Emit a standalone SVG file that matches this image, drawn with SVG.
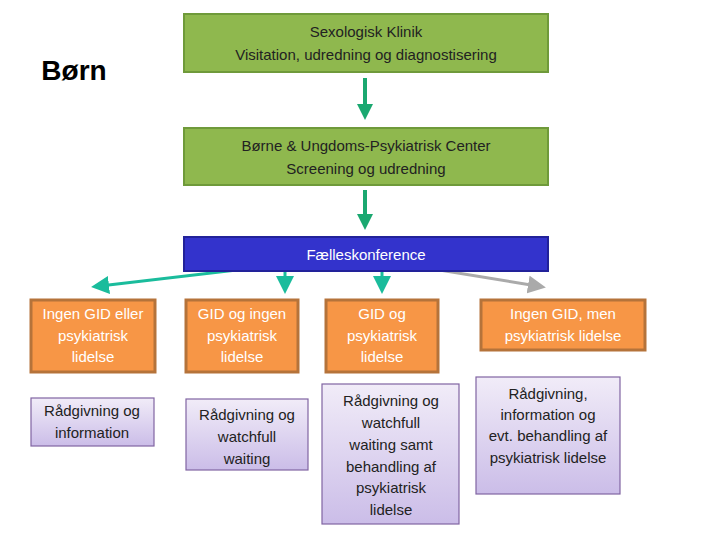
<svg xmlns="http://www.w3.org/2000/svg" width="720" height="540" viewBox="0 0 720 540">
<style>
text{font-family:"Liberation Sans",Arial,sans-serif;font-size:15px;text-anchor:middle}
.g{fill:#8fb84e;stroke:#6f9a3a;stroke-width:2}
.o{fill:#f79646;stroke:#b5733a;stroke-width:3}
.p{fill:url(#pg);stroke:#8064a2;stroke-width:1.2}
.w{fill:#fff}
.d{fill:#222}
</style>
<defs>
<linearGradient id="pg" x1="0" y1="0" x2="0" y2="1"><stop offset="0" stop-color="#f1ecf8"/><stop offset="1" stop-color="#cbbde8"/></linearGradient>
<marker id="at" markerWidth="6" markerHeight="6" refX="3" refY="3" orient="auto"><path d="M0,0L6,3L0,6Z" fill="#1abc9c"/></marker>
<marker id="ag" markerWidth="6" markerHeight="6" refX="3" refY="3" orient="auto"><path d="M0,0L6,3L0,6Z" fill="#aaaaaa"/></marker>
<marker id="adg" markerWidth="4" markerHeight="4" refX="2" refY="2" orient="auto"><path d="M0,0L4,2L0,4Z" fill="#1aa870"/></marker>
</defs>
<text x="74" y="80" style="font-size:28px;font-weight:bold;text-anchor:middle" fill="#000">Børn</text>
<g id="connectors" fill="none">
<line x1="365" y1="78" x2="365" y2="112" stroke="#1aa870" stroke-width="4" marker-end="url(#adg)"/>
<line x1="365" y1="190" x2="365" y2="222" stroke="#1aa870" stroke-width="4" marker-end="url(#adg)"/>
<line x1="272" y1="266" x2="100" y2="286" stroke="#1abc9c" stroke-width="3" marker-end="url(#at)"/>
<line x1="285" y1="271" x2="285" y2="285" stroke="#1abc9c" stroke-width="3" marker-end="url(#at)"/>
<line x1="382" y1="271" x2="382" y2="285" stroke="#1abc9c" stroke-width="3" marker-end="url(#at)"/>
<line x1="421" y1="267" x2="537" y2="286" stroke="#aaaaaa" stroke-width="3" marker-end="url(#ag)"/>
</g>
<g id="n1"><rect class="g" x="184" y="14" width="364" height="58"/><text class="d" x="366" y="37">Sexologisk Klinik</text><text class="d" x="366" y="60">Visitation, udredning og diagnostisering</text></g>
<g id="n2"><rect class="g" x="184" y="128" width="364" height="57"/><text class="d" x="366" y="151">Børne &amp; Ungdoms-Psykiatrisk Center</text><text class="d" x="366" y="174">Screening og udredning</text></g>
<g id="n3"><rect x="184" y="237" width="364" height="34" fill="#3333cc" stroke="#22229a" stroke-width="2"/><text class="w" x="366" y="260">Fælleskonference</text></g>
<g id="o1"><rect class="o" x="31" y="300" width="124" height="72"/><text class="w" x="93" y="319">Ingen GID eller</text><text class="w" x="93" y="341">psykiatrisk</text><text class="w" x="93" y="362">lidelse</text></g>
<g id="o2"><rect class="o" x="186" y="300" width="112" height="72"/><text class="w" x="242" y="319">GID og ingen</text><text class="w" x="242" y="341">psykiatrisk</text><text class="w" x="242" y="362">lidelse</text></g>
<g id="o3"><rect class="o" x="326" y="300" width="112" height="72"/><text class="w" x="382" y="319">GID og</text><text class="w" x="382" y="341">psykiatrisk</text><text class="w" x="382" y="362">lidelse</text></g>
<g id="o4"><rect class="o" x="481" y="300" width="164" height="50"/><text class="w" x="563" y="319">Ingen GID, men</text><text class="w" x="563" y="341">psykiatrisk lidelse</text></g>
<g id="p1"><rect class="p" x="31" y="398" width="123" height="48"/><text class="d" x="92" y="416">Rådgivning og</text><text class="d" x="92" y="438">information</text></g>
<g id="p2"><rect class="p" x="186" y="399" width="122" height="71"/><text class="d" x="247" y="420">Rådgivning og</text><text class="d" x="247" y="442">watchfull</text><text class="d" x="247" y="464">waiting</text></g>
<g id="p3"><rect class="p" x="322" y="384" width="137" height="140"/><text class="d" x="391" y="406">Rådgivning og</text><text class="d" x="391" y="428">watchfull</text><text class="d" x="391" y="450">waiting samt</text><text class="d" x="391" y="472">behandling af</text><text class="d" x="391" y="493">psykiatrisk</text><text class="d" x="391" y="515">lidelse</text></g>
<g id="p4"><rect class="p" x="476" y="377" width="144" height="117"/><text class="d" x="548" y="399">Rådgivning,</text><text class="d" x="548" y="420">information og</text><text class="d" x="548" y="441">evt. behandling af</text><text class="d" x="548" y="463">psykiatrisk lidelse</text></g>
</svg>
